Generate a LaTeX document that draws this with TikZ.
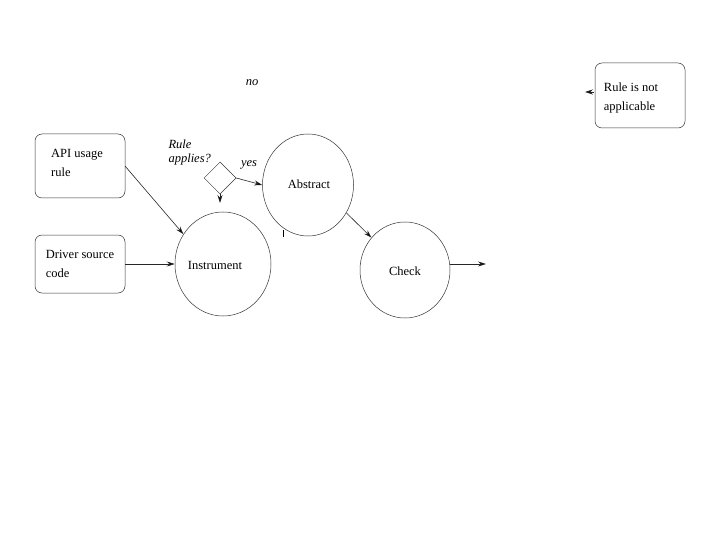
\documentclass[tikz,border=0pt]{standalone}
\usepackage{fontspec}
\setmainfont{Liberation Serif}
\usetikzlibrary{shapes.geometric,arrows.meta}
\begin{document}
\begin{tikzpicture}[x=1pt,y=-1pt,
  every node/.style={font=\fontsize{12.5}{19}\selectfont},
  box/.style={draw=black!80,line width=0.5pt,rounded corners=7pt,minimum width=90pt,align=left,inner sep=0pt},
  circ/.style={draw=black!80,line width=0.5pt,ellipse,inner sep=0pt},
  dia/.style={draw=black!80,line width=0.5pt,diamond,minimum width=32pt,minimum height=32pt,inner sep=0pt},
  lbl/.style={font=\fontsize{12.5}{14}\selectfont\itshape,align=left},
  conn/.style={draw=black!85,line width=0.6pt,-{Stealth[length=8pt,width=5pt,fill=black]}}]
\useasboundingbox (0,0) rectangle (720,540);
\node[box,minimum height=64pt] (api) at (80,166) {};
\node[align=left] (apit) at (77,162.5) {API usage\\rule};
\node[box,minimum height=58pt] (drv) at (80,264) {};
\node[align=left] (drvt) at (80,264) {Driver source\\code};
\node[box,minimum height=65pt] (na) at (640,95.5) {};
\node[align=left] (nat) at (631,97.5) {Rule is not\\applicable};
\node[circ,minimum width=96pt,minimum height=104pt] (ins) at (223,264) {};
\node (inst) at (215,265) {Instrument};
\node[circ,minimum width=91pt,minimum height=102pt] (abs) at (308,185) {};
\node (abst) at (309,184) {Abstract};
\node[circ,minimum width=90pt,minimum height=96pt] (chk) at (405,270) {};
\node (chkt) at (405,271) {Check};
\node[dia] (d) at (220,178) {};
\node[lbl,anchor=north west] (ra) at (165,136) {Rule\\applies?};
\node[lbl] (yes) at (249,165) {yes};
\node[lbl] (no) at (252,83) {no};
\coordinate (dend) at (220,203);
\coordinate (cend) at (486,264);
\coordinate (naend) at (585,92);
\coordinate (nast) at (594,92);
\coordinate (t1) at (283,230);
\coordinate (t2) at (283,237);
\draw[conn] (125,166) -- (ins.143);
\draw[conn] (drv.east) -- (ins.west);
\draw[conn] (d.east) -- (abs.west);
\draw[conn] (d.south) -- (dend);
\draw[conn] (abs.-36) -- (chk.136);
\draw[conn] (chk.east |- cend) -- (cend);
\draw[conn] (nast) -- (naend);
\draw[line width=0.5pt] (t1) -- (t2);
\end{tikzpicture}
\end{document}
